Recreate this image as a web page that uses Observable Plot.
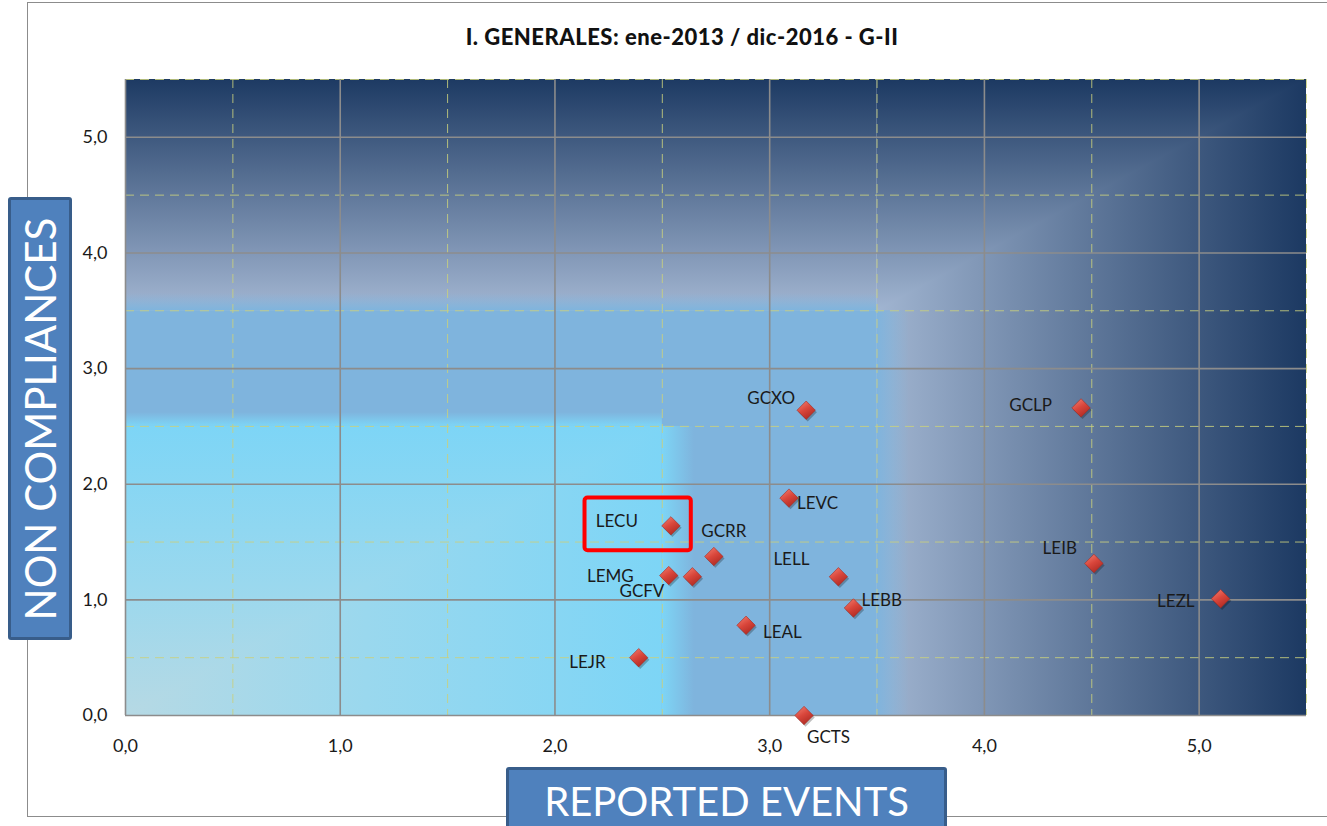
<!DOCTYPE html>
<html>
<head>
<meta charset="utf-8">
<script src="https://cdn.jsdelivr.net/npm/d3@7"></script>
<script src="https://cdn.jsdelivr.net/npm/@observablehq/plot@0.6"></script>
<style>
  body { margin: 0; background: #fff; font-family: Lato, "Open Sans", sans-serif; }
  #wrap { position: relative; width: 1327px; height: 826px; overflow: hidden; }
  #frame { position: absolute; left: 27px; top: 2px; width: 1400px; height: 815px; border: 1.5px solid #8c8c8c; box-sizing: border-box; }
  #chart { position: absolute; left: 0; top: 0; }
  #title { position: absolute; left: 0; width: 1364px; top: 23px; text-align: center; font-weight: 900; font-size: 22px; letter-spacing: 0.5px; color: #111; z-index: 2; }
  .axbox { position: absolute; background: #4f81bd; border: 3px solid #385d8a; border-radius: 3px; color: #fff; box-sizing: border-box; display: flex; align-items: center; justify-content: center; white-space: nowrap; z-index: 3; }
  #ylab { left: 8px; top: 197px; width: 64px; height: 443px; font-size: 42px; }
  #ylab span { display: block; transform: rotate(-90deg); }
  #xlab { left: 506px; top: 767px; width: 441px; height: 80px; font-size: 40px; align-items: flex-start; padding-top: 7px; }
</style>
</head>
<body>
<div id="wrap">
  <div id="frame"></div>
  <div id="chart"></div>
  <div id="title">I. GENERALES: ene-2013 / dic-2016 - G-II</div>
  <div id="ylab" class="axbox"><span>NON COMPLIANCES</span></div>
  <div id="xlab" class="axbox">REPORTED EVENTS</div>
</div>
<script>
// ---- data ----
const stations = ["GCXO", "GCLP", "LEVC", "LECU", "GCRR", "LEMG", "GCFV", "LELL", "LEIB", "LEZL", "LEBB", "LEAL", "LEJR", "GCTS"];
const reportedEvents = [3.17, 4.45, 3.09, 2.54, 2.74, 2.53, 2.64, 3.32, 4.51, 5.10, 3.39, 2.89, 2.39, 3.16];
const nonCompliances = [2.64, 2.66, 1.88, 1.64, 1.375, 1.21, 1.20, 1.20, 1.315, 1.01, 0.93, 0.78, 0.50, 0.00];
const majorTicks = [0, 1, 2, 3, 4, 5];
const minorTicks = [0.5, 1.5, 2.5, 3.5, 4.5, 5.5];
const highlighted = "LECU";
const zoneInner = 2.5, zoneMid = 3.5, axisMax = 5.5;

// ---- label placement (styling) ----
const labelPlacement = {
  GCXO: [-11, -12, "end"], GCLP: [-29, -2, "end"], LEVC: [8, 5, "start"], LECU: [-33, -4, "end"],
  GCRR: [10, -25, "middle"], LEMG: [-35, 1, "end"], GCFV: [-28, 15, "end"], LELL: [-29, -17, "end"],
  LEIB: [-17, -15, "end"], LEZL: [-26, 3, "end"], LEBB: [8, -7, "start"], LEAL: [17, 7, "start"],
  LEJR: [-33, 5, "end"], GCTS: [3, 22, "start"]
};

const pts = stations.map((name, i) => ({name, x: reportedEvents[i], y: nonCompliances[i]}));
const fmt = d => d.toFixed(1).replace(".", ",");

const innerFade = 0.15, midFade = 0.15;
const rect = (x1, x2, y1, y2) => [{x1, x2, y1, y2}];
const R = (data, fill) => Plot.rect(data, {x1: "x1", x2: "x2", y1: "y1", y2: "y2", fill, inset: 0});
const A = (data, fill) => Plot.area(data, {x1: "x", y1: "y1", y2: "y2", fill});

const hp = pts.find(d => d.name === highlighted);

const marks = [
  // background zones
  R(rect(0, zoneMid, 0, zoneMid), "#9fb3cf"),
  R(rect(zoneMid, axisMax, 0, axisMax), "url(#gRight)"),
  R(rect(0, zoneMid, zoneMid, axisMax), "url(#gTop)"),
  A([{x: zoneMid, y1: zoneMid, y2: axisMax}, {x: axisMax, y1: axisMax, y2: axisMax}], "url(#gTopC)"),
  R(rect(0, zoneMid, 0, zoneMid), "#7fb4dd"),
  R(rect(zoneMid, zoneMid + midFade, 0, zoneMid), "url(#fadeH_mid)"),
  R(rect(0, zoneMid, zoneMid, zoneMid + midFade), "url(#fadeV_mid)"),
  R(rect(0, zoneInner, 0, zoneInner), "url(#gInnerH)"),
  A([{x: 0, y1: 0, y2: zoneInner}, {x: zoneInner, y1: zoneInner, y2: zoneInner}], "url(#gInnerV)"),
  R(rect(zoneInner, zoneInner + innerFade, 0, zoneInner), "url(#fadeH_in)"),
  R(rect(0, zoneInner, zoneInner, zoneInner + innerFade * 0.8), "url(#fadeV_in)"),
  // grid
  Plot.ruleX(minorTicks, {stroke: "#c9d07e", strokeOpacity: 0.85, strokeWidth: 1, strokeDasharray: "9,6"}),
  Plot.ruleY(minorTicks, {stroke: "#c9d07e", strokeOpacity: 0.85, strokeWidth: 1, strokeDasharray: "9,6"}),
  Plot.ruleX(majorTicks, {stroke: "#8c8c8c", strokeWidth: 1.6}),
  Plot.ruleY(majorTicks, {stroke: "#8c8c8c", strokeWidth: 1.6}),
  // axes
  Plot.axisX({ticks: majorTicks, tickFormat: fmt, tickSize: 0, tickPadding: 24, fontSize: 18, fill: "#1a1a1a", label: null}),
  Plot.axisY({ticks: majorTicks, tickFormat: fmt, tickSize: 0, tickPadding: 18, fontSize: 18, fill: "#1a1a1a", label: null}),
  // highlight box
  Plot.rect([hp], {x1: d => d.x - 0.40, x2: d => d.x + 0.095, y1: d => d.y - 0.215, y2: d => d.y + 0.24, fill: "none", stroke: "#ff0000", strokeWidth: 4, rx: 3}),
  // points
  Plot.dot(pts, {x: "x", y: "y", symbol: "diamond2", r: 8.3, dx: 1.5, dy: 2, fill: "#000", fillOpacity: 0.25}),
  Plot.dot(pts, {x: "x", y: "y", symbol: "diamond2", r: 8.3, fill: "url(#gDiamond)", stroke: "#a52a22", strokeWidth: 0.6}),
  // labels
  ...pts.map(p => {
    const [dx, dy, anchor] = labelPlacement[p.name];
    return Plot.text([p], {x: "x", y: "y", text: "name", dx, dy, textAnchor: anchor, fontSize: 17, fill: "#1a1a1a"});
  })
];

const chart = Plot.plot({
  width: 1327, height: 826,
  marginLeft: 125, marginRight: 21, marginTop: 79, marginBottom: 111,
  x: {domain: [0, axisMax]},
  y: {domain: [0, axisMax]},
  style: {fontFamily: "Lato, 'Open Sans', sans-serif", background: "none", overflow: "visible"},
  marks
});

// gradient definitions
const svg = d3.select(chart);
const defs = svg.insert("defs", ":first-child");
function lin(id, vertical, stops) {
  const g = defs.append("linearGradient").attr("id", id)
    .attr("x1", 0).attr("y1", 0).attr("x2", vertical ? 0 : 1).attr("y2", vertical ? 1 : 0);
  stops.forEach(([o, c, op]) => g.append("stop").attr("offset", o).attr("stop-color", c).attr("stop-opacity", op ?? 1));
}
lin("gTop", true, [[0, "#1d3a63"], [1, "#a3b6d2"]]);
lin("gTopC", true, [[0, "#1c3962"], [1, "#a1b5d1"]]);
lin("gRight", false, [[0, "#a1b5d1"], [1, "#1c3962"]]);
lin("fadeH_mid", false, [[0, "#7fb4dd", 1], [1, "#7fb4dd", 0]]);
lin("fadeV_mid", true, [[0, "#7fb4dd", 0], [1, "#7fb4dd", 1]]);
lin("gInnerH", false, [[0, "#b6d9e4"], [0.45, "#9ad8ee"], [1, "#7dd5f6"]]);
lin("gInnerV", true, [[0, "#7dd5f6"], [0.55, "#9ad8ee"], [1, "#b6d9e4"]]);
lin("fadeH_in", false, [[0, "#7dd5f6", 1], [1, "#7dd5f6", 0]]);
lin("fadeV_in", true, [[0, "#7dd5f6", 0], [1, "#7dd5f6", 1]]);
const dg = defs.append("linearGradient").attr("id", "gDiamond")
  .attr("x1", 0.2).attr("y1", 0).attr("x2", 0.8).attr("y2", 1);
[[0, "#f07a6c"], [0.45, "#d9463b"], [1, "#a9261f"]].forEach(([o, c]) =>
  dg.append("stop").attr("offset", o).attr("stop-color", c));

document.getElementById("chart").appendChild(chart);
</script>
</body>
</html>
